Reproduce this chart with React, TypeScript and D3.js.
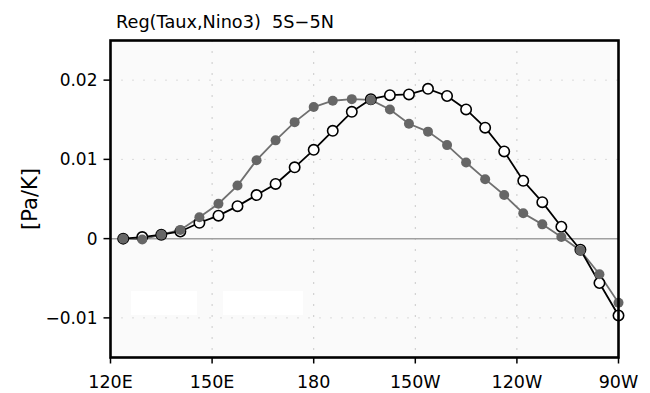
import React from "react";
import * as d3 from "d3";

const lons: number[] = [123.75,129.375,135,140.625,146.25,151.875,157.5,163.125,168.75,174.375,180,185.625,191.25,196.875,202.5,208.125,213.75,219.375,225,230.625,236.25,241.875,247.5,253.125,258.75,264.375,270];
const filledVals: number[] = [0.0000,-0.0001,0.0005,0.0011,0.0027,0.0044,0.0067,0.0099,0.0124,0.0147,0.0166,0.0174,0.0176,0.0175,0.0163,0.0145,0.0135,0.0118,0.0096,0.0075,0.0055,0.0032,0.0018,0.0002,-0.0015,-0.0045,-0.0081];
const openVals: number[] = [0.0000,0.0002,0.0005,0.0009,0.0020,0.0029,0.0041,0.0055,0.0069,0.0090,0.0112,0.0136,0.0160,0.0176,0.0181,0.0182,0.0189,0.0180,0.0163,0.0140,0.0110,0.0073,0.0046,0.0015,-0.0014,-0.0056,-0.0097];
const xTicks: number[] = [120,150,180,210,240,270];
const xTickLabels: string[] = ["120E","150E","180","150W","120W","90W"];
const yTicks: number[] = [-0.01,0,0.01,0.02];
const yTickLabels: string[] = ["\u22120.01","0","0.01","0.02"];
const title = "Reg(Taux,Nino3)  5S\u22125N";
const yLabel = "[Pa/K]";

export default function App() {
  const W = 650, H = 393;
  const L = 110.5, R = 618.5, T = 40.5, B = 357.5;
  const x = d3.scaleLinear().domain([120, 270]).range([L, R]);
  const y = d3.scaleLinear().domain([-0.015, 0.025]).range([B, T]);
  const line = d3.line<[number, number]>().x(d => x(d[0])).y(d => y(d[1]));
  const filled: [number, number][] = lons.map((l, i) => [l, filledVals[i]]);
  const open: [number, number][] = lons.map((l, i) => [l, openVals[i]]);
  const font = "'DejaVu Sans', sans-serif";
  return (
    <div style={{ position: "fixed", left: 0, top: 0 }}>
      <svg width={W} height={H} style={{ display: "block", background: "#fff" }}>
        <defs>
          <clipPath id="clip"><rect x={L} y={T} width={R - L} height={B - T} /></clipPath>
        </defs>
        <rect x={L} y={T} width={R - L} height={B - T} fill="#fafafa" />
        {xTicks.slice(1, -1).map(t => (
          <line key={"gx" + t} x1={x(t)} x2={x(t)} y1={T} y2={B} stroke="#999" strokeWidth={1} strokeDasharray="1,10" />
        ))}
        {[-0.01, 0.01, 0.02].map(t => (
          <line key={"gy" + t} x1={L} x2={R} y1={y(t)} y2={y(t)} stroke="#bbb" strokeWidth={1} strokeDasharray="1,10" />
        ))}
        <line x1={L} x2={R} y1={y(0)} y2={y(0)} stroke="#a0a0a0" strokeWidth={1.5} />
        <rect x={131} y={291} width={66} height={24} fill="#fff" />
        <rect x={223} y={291} width={80} height={24} fill="#fff" />
        <g clipPath="url(#clip)">
          <path d={line(filled) || ""} fill="none" stroke="#707070" strokeWidth={1.8} />
          <path d={line(open) || ""} fill="none" stroke="#000" strokeWidth={1.8} />
        </g>
        {open.map((d, i) => (
          <circle key={"o" + i} cx={x(d[0])} cy={y(d[1])} r={5.2} fill="#fff" stroke="#000" strokeWidth={1.6} />
        ))}
        {filled.map((d, i) => (
          <circle key={"f" + i} cx={x(d[0])} cy={y(d[1])} r={5} fill="#666" />
        ))}
        <rect x={L} y={T} width={R - L} height={B - T} fill="none" stroke="#000" strokeWidth={2.6} />
        {yTicks.map((t, i) => (
          <g key={"yt" + t}>
            <line x1={L - 7} x2={L} y1={y(t)} y2={y(t)} stroke="#000" strokeWidth={1.5} />
            <text x={L - 13} y={y(t)} dy="0.36em" textAnchor="end" fontFamily={font} fontSize={17} fill="#000">{yTickLabels[i]}</text>
          </g>
        ))}
        {xTicks.map((t, i) => (
          <g key={"xt" + t}>
            <line x1={x(t)} x2={x(t)} y1={B} y2={B + 6} stroke="#000" strokeWidth={1.5} />
            <text x={x(t)} y={388} textAnchor="middle" fontFamily={font} fontSize={17.5} fill="#000">{xTickLabels[i]}</text>
          </g>
        ))}
        <text x={116} y={28} textAnchor="start" fontFamily={font} fontSize={17.7} fill="#000" style={{ whiteSpace: "pre" }}>{title}</text>
        <text transform={`translate(37,199) rotate(-90)`} textAnchor="middle" fontFamily={font} fontSize={21} fill="#000">{yLabel}</text>
      </svg>
    </div>
  );
}
